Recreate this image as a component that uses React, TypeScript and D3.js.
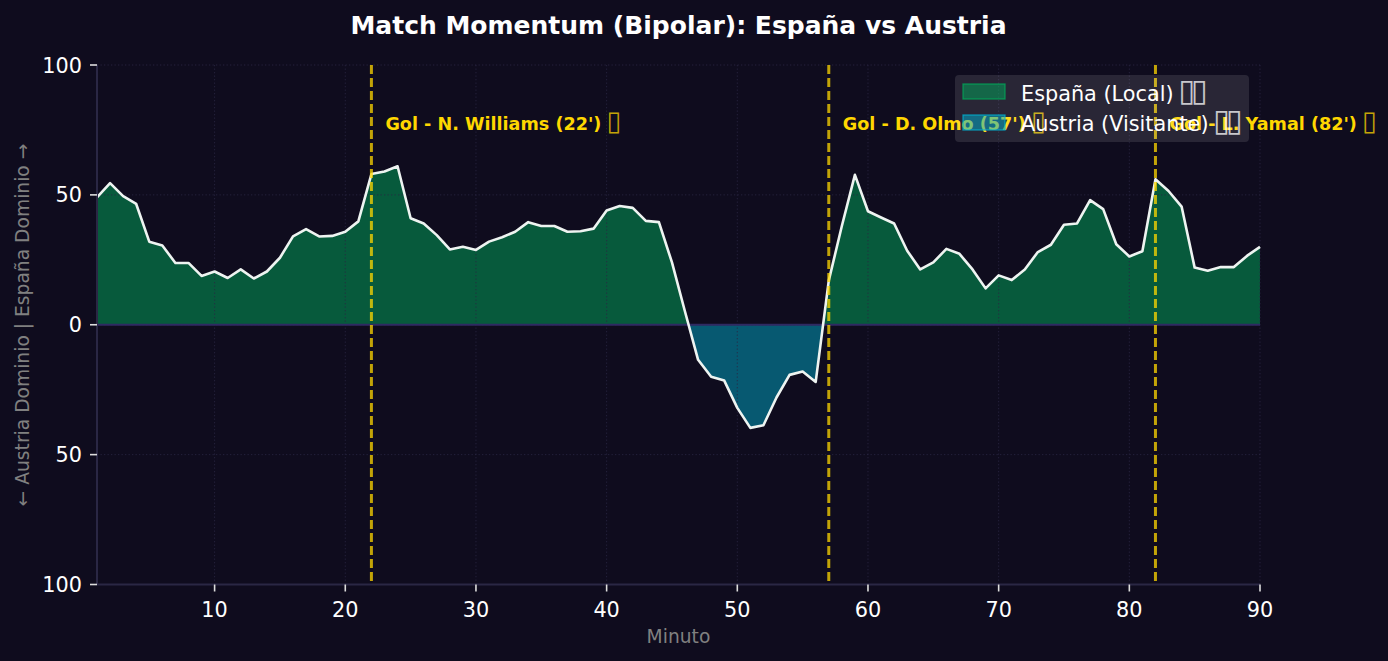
import React from 'react';
import * as d3 from 'd3';

const minutes = d3.range(1, 91);
const momentum = [
  49, 54.5, 49.5, 46.5, 32, 30.5, 23.8, 23.8, 18.8, 20.5,
  18, 21.3, 17.8, 20.5, 25.8, 34, 36.8, 34, 34.2, 35.8,
  39.8, 58, 59, 61, 41, 39, 34.5, 29, 30, 28.8,
  32, 33.7, 35.8, 39.5, 38, 38, 35.8, 36, 37, 44,
  45.7, 45, 40, 39.5, 24, 5, -13.5, -20, -21.5, -32,
  -39.7, -38.7, -28, -19.3, -18, -22, 17, 38, 57.7, 43.7,
  41.3, 39, 28.5, 21.3, 24, 29.2, 27.3, 21.3, 14, 19,
  17.2, 21.3, 28, 30.8, 38.5, 39, 48, 44.5, 31, 26.3,
  28.3, 56, 51.5, 45.5, 22, 20.8, 22.2, 22.2, 26.5, 30,
];
const goalMinutes = [22, 57, 82];
const goalLabels = ["Gol - N. Williams (22') ", "Gol - D. Olmo (57') ", "Gol - L. Yamal (82') "];
const xTicks = [10, 20, 30, 40, 50, 60, 70, 80, 90];
const yTicks = [-100, -50, 0, 50, 100];
const legendLabels = ['España (Local) ', 'Austria (Visitante) '];
// the reference font had no emoji, so these come out as empty boxes
const MISSING_GLYPH = '\u25AF';

const WIDTH = 1388;
const HEIGHT = 661;
const FONT = '"DejaVu Sans", sans-serif';
const BG = '#0f0c1e';
const GREEN = '#00a85a';
const TEAL = '#00b0d0';
const GOLD = '#ffd700';
const PURPLE = '#2a2744';

const x = d3.scaleLinear().domain([1, 90]).range([97, 1260]);
const y = d3.scaleLinear().domain([-100, 100]).range([584.5, 65]);

const points = minutes.map((m, i) => [m, momentum[i]] as [number, number]);
const areaPath = d3.area<[number, number]>().x(d => x(d[0])).y0(y(0)).y1(d => y(d[1]))(points) || '';
const linePath = d3.line<[number, number]>().x(d => x(d[0])).y(d => y(d[1]))(points) || '';

export default function App() {
  return (
    <svg
      width={WIDTH}
      height={HEIGHT}
      viewBox={`0 0 ${WIDTH} ${HEIGHT}`}
      style={{ position: 'fixed', left: 0, top: 0, background: BG, fontFamily: FONT }}
    >
      <defs>
        <clipPath id="above"><rect x={x(1)} y={y(100)} width={x(90) - x(1)} height={y(0) - y(100)} /></clipPath>
        <clipPath id="below"><rect x={x(1)} y={y(0)} width={x(90) - x(1)} height={y(-100) - y(0)} /></clipPath>
      </defs>
      <rect width={WIDTH} height={HEIGHT} fill={BG} />

      {/* areas */}
      <path d={areaPath} fill={GREEN} fillOpacity={0.5} clipPath="url(#above)" />
      <path d={areaPath} fill={TEAL} fillOpacity={0.47} clipPath="url(#below)" />

      {/* grid */}
      {xTicks.map(t => (
        <line key={t} x1={x(t)} x2={x(t)} y1={y(100)} y2={y(-100)} stroke={PURPLE} strokeOpacity={0.8} strokeWidth={1} strokeDasharray="1.3 2.2" />
      ))}
      {yTicks.map(t => (
        <line key={t} x1={x(1)} x2={x(90)} y1={y(t)} y2={y(t)} stroke={PURPLE} strokeOpacity={0.8} strokeWidth={1} strokeDasharray="1.3 2.2" />
      ))}

      <line x1={x(1)} x2={x(90)} y1={y(0)} y2={y(0)} stroke="#2f2a62" strokeWidth={2.2} />
      <path d={linePath} fill="none" stroke="#eef4f1" strokeWidth={2.6} strokeLinejoin="round" />

      {/* spines */}
      <line x1={x(1)} x2={x(1)} y1={y(100)} y2={y(-100)} stroke={PURPLE} strokeWidth={2} />
      <line x1={x(1)} x2={x(90)} y1={y(-100)} y2={y(-100)} stroke={PURPLE} strokeWidth={2} />

      {/* goals */}
      {goalMinutes.map(g => (
        <line key={g} x1={x(g)} x2={x(g)} y1={y(100)} y2={y(-100)} stroke={GOLD} strokeOpacity={0.75} strokeWidth={3} strokeDasharray="9 4" />
      ))}

      {/* goal labels */}
      {goalMinutes.map((g, i) => (
        <text key={g} x={x(g) + 14} y={130} fontSize={17.6} fontWeight="bold" fill={GOLD}>
          {goalLabels[i]}<tspan fontWeight="normal" fontSize={27} fillOpacity={0.75} dx={-1}>{MISSING_GLYPH}</tspan>
        </text>
      ))}

      {/* legend sits over everything, it is only a light wash */}
      <rect x={955} y={75} width={294} height={67} rx={4} fill="#fff" fillOpacity={0.11} />
      <rect x={963} y={84} width={42} height={15} fill={GREEN} fillOpacity={0.5} stroke={GREEN} strokeOpacity={0.75} strokeWidth={1.3} />
      <rect x={963} y={115} width={42} height={15} fill={TEAL} fillOpacity={0.5} stroke={TEAL} strokeOpacity={0.75} strokeWidth={1.3} />
      {legendLabels.map((l, i) => (
        <text key={l} x={1021} y={101 + i * 30} fontSize={20.8} fill="#fff">
          {l}<tspan letterSpacing={-4.5} fontSize={31} fillOpacity={0.75} dx={-2}>{MISSING_GLYPH + MISSING_GLYPH}</tspan>
        </text>
      ))}

      {/* axes */}
      {xTicks.map(t => (
        <g key={t}>
          <line x1={x(t)} x2={x(t)} y1={y(-100)} y2={y(-100) + 7} stroke="#ddd" strokeWidth={1.6} />
          <text x={x(t)} y={617} fontSize={20.8} fill="#fff" textAnchor="middle">{t}</text>
        </g>
      ))}
      {yTicks.map(t => (
        <g key={t}>
          <line x1={x(1) - 7} x2={x(1)} y1={y(t)} y2={y(t)} stroke="#ddd" strokeWidth={1.6} />
          <text x={x(1) - 15} y={y(t) + 7.5} fontSize={20.8} fill="#fff" textAnchor="end">{Math.abs(t)}</text>
        </g>
      ))}

      <text x={678.5} y={34} fontSize={25} fontWeight="bold" fill="#fff" textAnchor="middle">Match Momentum (Bipolar): España vs Austria</text>
      <text x={678.5} y={643} fontSize={18.7} fill="#808080" textAnchor="middle">Minuto</text>
      <text transform={`translate(29,325) rotate(-90)`} fontSize={18.7} fill="#808080" textAnchor="middle">← Austria Dominio | España Dominio →</text>
    </svg>
  );
}
